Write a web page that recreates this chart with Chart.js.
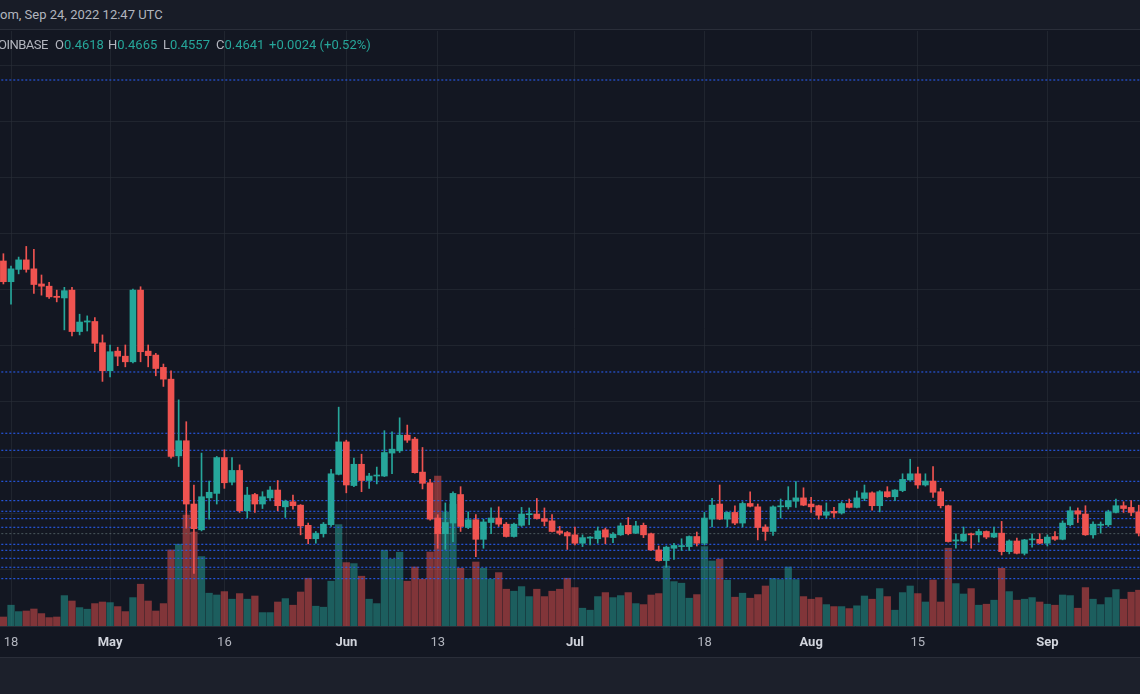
<!DOCTYPE html>
<html><head><meta charset="utf-8">
<script src="https://cdn.jsdelivr.net/npm/chart.js@4.4.0/dist/chart.umd.min.js"></script>
<style>
html,body{margin:0;padding:0;width:1140px;height:694px;overflow:hidden;background:#131722;font-family:Roboto,"Open Sans",sans-serif;}
#hdr{position:absolute;left:0;top:0;width:1140px;height:29px;background:#181c27;border-bottom:1px solid #2a2e39;}
#hdr span{position:absolute;left:0;top:7px;font-size:13px;color:#b2b5be;white-space:nowrap;}
#wrap{position:absolute;left:0;top:31px;width:1140px;height:626px;}
#legend{position:absolute;top:37px;left:0;width:1140px;height:16px;font-size:13px;color:#b2b5be;white-space:nowrap;z-index:2;overflow:hidden}
#legend span.g{position:absolute;top:0}
#legend span.n{letter-spacing:-0.5px}
.v{color:#26a69a}
#foot{position:absolute;left:0;top:657px;width:1140px;height:36px;background:#1c202b;border-top:1px solid #2a2e39;}
</style>
</head>
<body>
<div id="hdr"><span>om, Sep 24, 2022 12:47 UTC</span></div>
<div id="wrap"><canvas id="c" width="1140" height="626"></canvas></div>
<div id="legend"></div>
<div id="foot"></div>
<script>
// ---- data (ADA/USD daily, Apr 17 .. Sep 13 2022) ----
const open = [0.951,0.914,0.936,0.953,0.937,0.910,0.906,0.888,0.885,0.899,
 0.825,0.842,0.843,0.805,0.755,0.790,0.781,0.771,0.899,0.790,
 0.783,0.761,0.740,0.603,0.630,0.517,0.471,0.528,0.536,0.600,
 0.556,0.577,0.505,0.534,0.517,0.528,0.542,0.512,0.521,0.515,
 0.479,0.455,0.464,0.480,0.570,0.628,0.550,0.588,0.559,0.567,
 0.567,0.608,0.612,0.640,0.633,0.574,0.555,0.492,0.464,0.483,
 0.534,0.475,0.489,0.454,0.484,0.492,0.481,0.459,0.479,0.498,
 0.499,0.491,0.487,0.469,0.466,0.462,0.447,0.456,0.455,0.471,
 0.457,0.462,0.479,0.465,0.479,0.464,0.435,0.416,0.438,0.441,
 0.441,0.459,0.447,0.490,0.517,0.490,0.502,0.483,0.518,0.512,
 0.476,0.468,0.512,0.512,0.522,0.528,0.517,0.514,0.497,0.504,
 0.501,0.518,0.511,0.527,0.537,0.514,0.539,0.530,0.541,0.560,
 0.571,0.551,0.558,0.539,0.514,0.451,0.451,0.464,0.462,0.468,
 0.458,0.465,0.432,0.451,0.429,0.453,0.454,0.447,0.459,0.454,
 0.480,0.505,0.499,0.462,0.479,0.480,0.502,0.514,0.511,0.503];
const high = [0.964,0.942,0.958,0.977,0.972,0.926,0.913,0.899,0.904,0.904,
 0.856,0.853,0.850,0.819,0.801,0.797,0.801,0.901,0.905,0.801,
 0.786,0.767,0.755,0.703,0.664,0.551,0.608,0.558,0.602,0.614,
 0.600,0.587,0.547,0.536,0.539,0.548,0.559,0.524,0.533,0.516,
 0.483,0.468,0.484,0.579,0.690,0.631,0.599,0.606,0.572,0.583,
 0.648,0.646,0.671,0.658,0.636,0.618,0.561,0.498,0.519,0.539,
 0.548,0.503,0.498,0.490,0.510,0.512,0.484,0.483,0.511,0.510,
 0.527,0.510,0.498,0.477,0.468,0.476,0.462,0.459,0.476,0.474,
 0.466,0.483,0.493,0.486,0.483,0.465,0.442,0.442,0.447,0.455,
 0.460,0.467,0.502,0.527,0.551,0.503,0.514,0.521,0.539,0.517,
 0.480,0.514,0.526,0.548,0.557,0.546,0.529,0.515,0.519,0.511,
 0.521,0.526,0.540,0.551,0.539,0.541,0.548,0.543,0.571,0.597,
 0.583,0.571,0.584,0.545,0.515,0.464,0.476,0.465,0.472,0.469,
 0.476,0.486,0.453,0.456,0.454,0.464,0.464,0.462,0.468,0.487,
 0.512,0.510,0.514,0.485,0.485,0.506,0.526,0.521,0.523,0.515];
const low = [0.910,0.874,0.928,0.931,0.893,0.890,0.884,0.878,0.828,0.817,
 0.819,0.826,0.789,0.736,0.744,0.764,0.762,0.769,0.771,0.762,
 0.746,0.727,0.599,0.584,0.474,0.393,0.469,0.490,0.517,0.545,
 0.551,0.502,0.492,0.502,0.509,0.524,0.505,0.493,0.508,0.462,
 0.446,0.447,0.458,0.477,0.569,0.537,0.548,0.539,0.545,0.553,
 0.566,0.571,0.609,0.627,0.572,0.544,0.488,0.438,0.436,0.450,
 0.468,0.473,0.423,0.438,0.464,0.477,0.458,0.458,0.477,0.480,
 0.490,0.478,0.467,0.462,0.436,0.444,0.441,0.444,0.447,0.446,
 0.448,0.461,0.462,0.464,0.457,0.434,0.415,0.404,0.418,0.434,
 0.434,0.442,0.444,0.476,0.489,0.476,0.480,0.476,0.512,0.453,
 0.452,0.461,0.492,0.508,0.511,0.514,0.502,0.490,0.492,0.493,
 0.499,0.510,0.510,0.523,0.506,0.503,0.529,0.523,0.539,0.559,
 0.545,0.549,0.529,0.510,0.449,0.438,0.450,0.438,0.449,0.455,
 0.457,0.426,0.428,0.428,0.426,0.440,0.446,0.442,0.452,0.453,
 0.478,0.484,0.461,0.456,0.465,0.477,0.501,0.502,0.496,0.460];
const close = [0.914,0.937,0.953,0.936,0.909,0.906,0.887,0.886,0.898,0.825,
 0.842,0.844,0.804,0.755,0.789,0.781,0.771,0.899,0.789,0.782,
 0.759,0.740,0.602,0.630,0.517,0.473,0.530,0.538,0.600,0.555,
 0.577,0.505,0.533,0.517,0.530,0.542,0.514,0.522,0.514,0.478,
 0.455,0.465,0.481,0.571,0.628,0.551,0.588,0.559,0.567,0.568,
 0.609,0.615,0.640,0.631,0.573,0.554,0.490,0.464,0.484,0.536,
 0.477,0.489,0.454,0.485,0.492,0.481,0.459,0.481,0.499,0.499,
 0.491,0.486,0.468,0.465,0.460,0.447,0.457,0.458,0.469,0.458,
 0.463,0.478,0.464,0.478,0.462,0.435,0.416,0.440,0.443,0.442,
 0.459,0.447,0.492,0.515,0.490,0.502,0.483,0.518,0.513,0.475,
 0.468,0.512,0.513,0.523,0.528,0.515,0.512,0.497,0.503,0.501,
 0.518,0.511,0.528,0.537,0.514,0.539,0.530,0.542,0.561,0.571,
 0.551,0.558,0.538,0.514,0.450,0.453,0.463,0.462,0.468,0.458,
 0.465,0.432,0.451,0.429,0.453,0.454,0.447,0.458,0.454,0.483,
 0.505,0.499,0.462,0.481,0.481,0.503,0.514,0.509,0.502,0.465];
const volume = [4.5,10.4,7.2,7.5,8.5,6.2,4.2,4.5,15.2,12.5,
 9.2,8.4,11.2,12.0,11.7,9.7,7.2,14.2,20.9,12.5,
 7.5,11.2,38.0,40.9,55.5,47.0,34.7,16.4,15.5,17.2,
 13.4,16.2,13.4,15.0,6.7,6.7,12.0,13.7,10.4,17.0,
 23.9,9.9,9.4,22.4,50.7,31.7,31.2,24.9,13.4,11.2,
 37.9,33.4,36.9,22.4,29.5,23.4,37.0,74.9,57.0,60.9,
 28.9,23.7,32.0,28.9,23.4,26.7,18.4,17.4,19.7,14.7,
 18.4,14.7,17.4,18.4,23.9,19.2,8.9,7.9,14.7,16.7,
 14.2,15.2,16.7,11.2,10.7,15.5,16.2,30.0,22.2,21.4,
 13.9,15.7,39.7,32.5,33.4,22.9,14.4,16.4,13.9,15.7,
 20.0,23.7,23.2,29.5,23.2,14.7,13.4,14.2,10.7,9.7,
 9.7,8.7,10.1,15.0,13.4,18.7,14.7,7.9,16.7,20.0,
 16.2,12.0,23.0,12.0,38.9,21.2,16.0,18.7,10.4,10.9,
 12.9,28.9,17.2,12.9,13.4,14.2,12.0,10.9,10.4,15.5,
 15.2,8.9,19.2,13.4,10.7,14.2,18.2,13.4,16.9,17.9];
// time-axis ticks (day index from Apr 17) and their labels
const tickIdx  = [1, 14, 29, 45, 57, 75, 92, 106, 120, 137];
const tickText = ['18','May','16','Jun','13','Jul','18','Aug','15','Sep'];
const monthNames = ['May','Jun','Jul','Aug','Sep'];
// horizontal price grid and drawn horizontal levels
const priceGrid = [0.4,0.5,0.6,0.7,0.8,0.9,1.0,1.1,1.2,1.3];
const levels = [1.2742,0.7528,0.6434,0.6130,0.5576,0.5230,0.5041,0.4909,0.4755,0.4451,0.4344,0.4201,0.4041,0.3837];
// last bar legend
const lastOHLC = [0.4618, 0.4665, 0.4557, 0.4641];
const lastChange = '+0.0024 (+0.52%)';
const legendName = 'OINBASE';

// ---- legend (real text) ----
(function(){
  const lg = document.getElementById('legend');
  const pos = [55,108,163,216];
  const keys = ['O','H','L','C'];
  let html = '<span class="g n" style="left:-2px">'+legendName+'</span>';
  keys.forEach((k,i)=>{ html += '<span class="g" style="left:'+pos[i]+'px">'+k+'<span class="v">'+lastOHLC[i].toFixed(4)+'</span></span>'; });
  html += '<span class="g v" style="left:269px">'+lastChange+'</span>';
  lg.innerHTML = html;
})();

// ---- chart ----
const UP = '#26a69a', DOWN = '#ef5350';
const UPV = 'rgba(38,166,154,0.5)', DOWNV = 'rgba(239,83,80,0.5)';
const idx = open.map((_, i) => i);
const isUp = idx.map(i => close[i] >= open[i]);

const datasets = [
  { type:'bar', label:'Body', data: idx.map(i => ({x:i, y:[open[i], close[i]]})),
    backgroundColor: isUp.map(u => u ? UP : DOWN), barThickness: 6, minBarLength: 1,
    grouped:false, yAxisID:'y', order:1, borderWidth:0 },
  { type:'bar', label:'Wick', data: idx.map(i => ({x:i, y:[low[i], high[i]]})),
    backgroundColor: isUp.map(u => u ? UP : DOWN), barThickness: 1,
    grouped:false, yAxisID:'y', order:2, borderWidth:0 },
  ...levels.map((v, k) => ({ type:'line', label:'L'+k, data:[{x:-5,y:v},{x:160,y:v}],
    borderColor:'#2962ff', borderWidth:1, borderDash:[2,2], pointRadius:0, yAxisID:'y', order:3 })),
  { type:'line', label:'Last', data:[{x:-5,y:lastOHLC[3]},{x:160,y:lastOHLC[3]}],
    borderColor:'rgba(120,140,140,0.55)', borderWidth:1, borderDash:[2,2], pointRadius:0, yAxisID:'y', order:3 },
  { type:'bar', label:'Volume', data: idx.map(i => ({x:i, y:volume[i]})),
    backgroundColor: isUp.map(u => u ? UPV : DOWNV), barThickness: 6.6,
    grouped:false, yAxisID:'yv', order:10, borderWidth:0 }
];

const gridColor = 'rgba(42,46,57,0.6)';
new Chart(document.getElementById('c'), {
  data: { datasets },
  options: {
    responsive:false, animation:false, events:[],
    layout:{ padding:0 },
    plugins:{ legend:{display:false}, tooltip:{enabled:false} },
    scales:{
      x:{ type:'linear', position:'bottom', min:-0.446, max:149.16, bounds:'data', offset:false,
        grid:{ color:gridColor, drawTicks:false, offset:false },
        border:{ display:true, color:'#2a2e39' },
        afterBuildTicks: s => { s.ticks = tickIdx.map(v => ({value:v})); },
        afterFit: s => { s.height = 31; s.paddingLeft = 0; s.paddingRight = 0; },
        ticks:{ autoSkip:false, maxRotation:0, padding:9,
          callback:(v, i) => tickText[i],
          color: ctx => monthNames.includes(tickText[ctx.index]) ? '#d1d4dc' : '#b2b5be',
          font: ctx => ({ family:'Roboto, "Open Sans", sans-serif', size:13,
                          weight: monthNames.includes(tickText[ctx.index]) ? 'bold' : 'normal' }) } },
      y:{ type:'linear', position:'left', min:0.2992, max:1.3617, bounds:'data',
        grid:{ color:gridColor, drawTicks:false }, border:{display:false},
        ticks:{ display:false },
        afterBuildTicks: s => { s.ticks = priceGrid.map(v => ({value:v})); },
        afterFit: s => { s.width = 0; } },
      yv:{ type:'linear', display:false, min:0, max:297.5, position:'right' }
    }
  }
});
</script>
</body></html>
